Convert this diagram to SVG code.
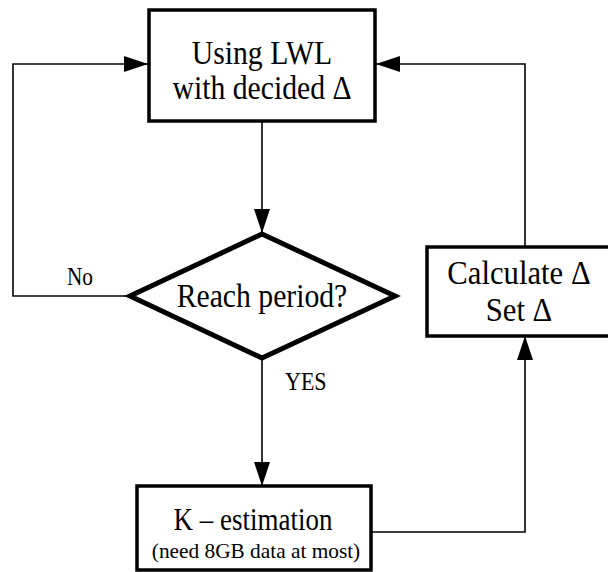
<svg xmlns="http://www.w3.org/2000/svg" width="608" height="572" viewBox="0 0 608 572">
  <style>
    .box { fill: #ffffff; stroke: #000000; stroke-width: 3.5; }
    .dia { fill: #ffffff; stroke: #000000; stroke-width: 5; stroke-linejoin: miter; }
    .conn { fill: none; stroke: #000000; stroke-width: 1.6; }
    .t { fill: #000000; }
    .big { font-size: 33px; text-anchor: middle; }
    .mid { font-size: 31px; text-anchor: middle; }
    .small { font-size: 22px; text-anchor: middle; }
    .lbl { font-size: 25px; }
  </style>
  <defs>
    <marker id="arrow" markerUnits="userSpaceOnUse" markerWidth="24" markerHeight="16" refX="24" refY="8" orient="auto">
      <path d="M0,0 L24,8 L0,16 z" fill="#000000"/>
    </marker>
  </defs>
  <rect width="608" height="572" fill="#ffffff"/>

  <g id="connectors" font-family="'Liberation Serif', 'Times New Roman', serif">
    <path class="conn" d="M262,122 V233" marker-end="url(#arrow)"/>
    <path class="conn" d="M262,358 V486" marker-end="url(#arrow)"/>
    <path class="conn" d="M130,296 H13 V64 H148" marker-end="url(#arrow)"/>
    <path class="conn" d="M371,532 H525 V336" marker-end="url(#arrow)"/>
    <path class="conn" d="M525,247 V64 H376" marker-end="url(#arrow)"/>
    <text class="t lbl" transform="translate(80,285) scale(0.85,1)" text-anchor="middle">No</text>
    <text class="t lbl" transform="translate(285,390) scale(0.88,1)">YES</text>
  </g>

  <g id="node-lwl" font-family="'Liberation Serif', 'Times New Roman', serif">
    <rect class="box" x="149" y="10" width="226" height="111"/>
    <text class="t big" transform="translate(262,64) scale(0.9,1)">Using LWL</text>
    <text class="t big" transform="translate(262,99) scale(0.9,1)">with decided Δ</text>
  </g>

  <g id="node-reach" font-family="'Liberation Serif', 'Times New Roman', serif">
    <polygon class="dia" points="262,234 395,296 262,358 130,296"/>
    <text class="t big" transform="translate(262,307) scale(0.9,1)">Reach period?</text>
  </g>

  <g id="node-calc" font-family="'Liberation Serif', 'Times New Roman', serif">
    <rect class="box" x="427" y="247" width="186" height="89"/>
    <text class="t big" transform="translate(519,284) scale(0.93,1)">Calculate Δ</text>
    <text class="t big" transform="translate(519,321) scale(0.93,1)">Set Δ</text>
  </g>

  <g id="node-k" font-family="'Liberation Serif', 'Times New Roman', serif">
    <rect class="box" x="137" y="486" width="234" height="84"/>
    <text class="t mid" transform="translate(253,530) scale(0.87,1)">K – estimation</text>
    <text class="t small" transform="translate(256,558) scale(0.97,1)">(need 8GB data at most)</text>
  </g>
</svg>
